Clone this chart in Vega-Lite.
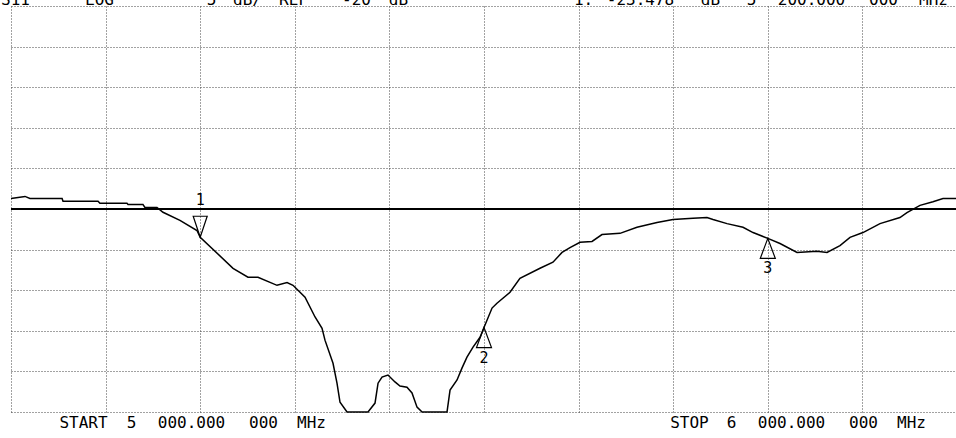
{
  "$schema": "https://vega.github.io/schema/vega-lite/v6.json",
  "width": 946,
  "height": 406,
  "autosize": {"type": "none"},
  "padding": {"left": 11, "top": 6, "right": 0, "bottom": 26},
  "background": "white",
  "config": {"view": {"stroke": null}},
  "datasets": {
    "trace": [
      {"freq": 5000, "db": -18.7}, {"freq": 5014.8, "db": -18.45}, {"freq": 5020, "db": -18.7},
      {"freq": 5054, "db": -18.7}, {"freq": 5055, "db": -19.05}, {"freq": 5092, "db": -19.05},
      {"freq": 5094, "db": -19.3}, {"freq": 5122.6, "db": -19.3}, {"freq": 5123.7, "db": -19.45},
      {"freq": 5139.5, "db": -19.45}, {"freq": 5141.6, "db": -19.8}, {"freq": 5154.3, "db": -19.8},
      {"freq": 5160.7, "db": -20.4}, {"freq": 5178.6, "db": -21.4}, {"freq": 5196.6, "db": -22.65},
      {"freq": 5200, "db": -23.48}, {"freq": 5234.7, "db": -27.3}, {"freq": 5250.5, "db": -28.4},
      {"freq": 5261.1, "db": -28.4}, {"freq": 5281.2, "db": -29.4}, {"freq": 5291.8, "db": -29.05},
      {"freq": 5298.1, "db": -29.4}, {"freq": 5310.8, "db": -30.85}, {"freq": 5321.4, "db": -33.3},
      {"freq": 5328.8, "db": -34.7}, {"freq": 5331.9, "db": -36.15}, {"freq": 5340.4, "db": -39},
      {"freq": 5344.6, "db": -41.45}, {"freq": 5347.8, "db": -43.8}, {"freq": 5355.2, "db": -45},
      {"freq": 5377.4, "db": -45}, {"freq": 5384.8, "db": -43.9}, {"freq": 5388, "db": -41.45},
      {"freq": 5392.2, "db": -40.7}, {"freq": 5398.5, "db": -40.45}, {"freq": 5405.9, "db": -41.3},
      {"freq": 5411.2, "db": -41.8}, {"freq": 5418.6, "db": -41.95}, {"freq": 5423.9, "db": -42.65},
      {"freq": 5429.2, "db": -44.4}, {"freq": 5434.5, "db": -45}, {"freq": 5460.9, "db": -45},
      {"freq": 5464.1, "db": -42.3}, {"freq": 5471.5, "db": -41.05}, {"freq": 5476.7, "db": -39.6},
      {"freq": 5482, "db": -38.25}, {"freq": 5488.4, "db": -37}, {"freq": 5495.8, "db": -35.8},
      {"freq": 5500, "db": -34.6}, {"freq": 5508.5, "db": -32.2}, {"freq": 5513.7, "db": -31.6},
      {"freq": 5527.5, "db": -30.25}, {"freq": 5538, "db": -28.55}, {"freq": 5559.2, "db": -27.3},
      {"freq": 5572.9, "db": -26.55}, {"freq": 5582.5, "db": -25.35}, {"freq": 5590.9, "db": -24.75},
      {"freq": 5601.5, "db": -24.1}, {"freq": 5614.2, "db": -24}, {"freq": 5624.7, "db": -23.15},
      {"freq": 5643.8, "db": -23}, {"freq": 5661.7, "db": -22.25}, {"freq": 5682.9, "db": -21.65},
      {"freq": 5699.8, "db": -21.3}, {"freq": 5720.9, "db": -21.15}, {"freq": 5735.7, "db": -21.05},
      {"freq": 5742.1, "db": -21.3}, {"freq": 5756.9, "db": -21.8}, {"freq": 5773.8, "db": -22.25},
      {"freq": 5784.4, "db": -22.9}, {"freq": 5800, "db": -23.62}, {"freq": 5812.9, "db": -24.25},
      {"freq": 5830.9, "db": -25.35}, {"freq": 5852, "db": -25.2}, {"freq": 5862.6, "db": -25.35},
      {"freq": 5876.3, "db": -24.5}, {"freq": 5886.9, "db": -23.5}, {"freq": 5900.6, "db": -22.9},
      {"freq": 5918.6, "db": -21.8}, {"freq": 5939.7, "db": -21.05}, {"freq": 5947.1, "db": -20.45},
      {"freq": 5960.9, "db": -19.55}, {"freq": 5974.6, "db": -19.1}, {"freq": 5985.2, "db": -18.7},
      {"freq": 6000, "db": -18.7}
    ],
    "reference": [{"db": -20}],
    "markers": [
      {"marker": "1", "freq": 5200, "db": -23.48, "side": "above"},
      {"marker": "2", "freq": 5500, "db": -34.6, "side": "below"},
      {"marker": "3", "freq": 5800, "db": -23.62, "side": "below"}
    ],
    "labels": [
      {"label": "S11", "freq": 5004.8, "db": 5.12},
      {"label": "LOG", "freq": 5093.6, "db": 5.12},
      {"label": "5", "freq": 5211.9, "db": 5.12},
      {"label": "dB/", "freq": 5250.0, "db": 5.12},
      {"label": "REF", "freq": 5298.6, "db": 5.12},
      {"label": "-20", "freq": 5365.2, "db": 5.12},
      {"label": "dB", "freq": 5409.6, "db": 5.12},
      {"label": "1:", "freq": 5605.2, "db": 5.12},
      {"label": "-23.478", "freq": 5665.4, "db": 5.12},
      {"label": "dB", "freq": 5739.4, "db": 5.12},
      {"label": "5", "freq": 5782.8, "db": 5.12},
      {"label": "200.000", "freq": 5846.2, "db": 5.12},
      {"label": "000", "freq": 5922.3, "db": 5.12},
      {"label": "MHz", "freq": 5975.2, "db": 5.12},
      {"label": "START", "freq": 5076.6, "db": -47},
      {"label": "5", "freq": 5127.4, "db": -47},
      {"label": "000.000", "freq": 5190.8, "db": -47},
      {"label": "000", "freq": 5266.9, "db": -47},
      {"label": "MHz", "freq": 5317.7, "db": -47},
      {"label": "STOP", "freq": 5717.2, "db": -47},
      {"label": "6", "freq": 5761.6, "db": -47},
      {"label": "000.000", "freq": 5825.1, "db": -47},
      {"label": "000", "freq": 5901.2, "db": -47},
      {"label": "MHz", "freq": 5951.9, "db": -47}
    ]
  },
  "layer": [
    {
      "data": {"name": "trace"},
      "mark": {"type": "line", "color": "black", "strokeWidth": 1.5, "interpolate": "linear"},
      "encoding": {
        "x": {
          "field": "freq", "type": "quantitative",
          "scale": {"domain": [5000, 6000], "nice": false, "zero": false},
          "axis": {
            "values": [5000, 5100, 5200, 5300, 5400, 5500, 5600, 5700, 5800, 5900, 6000],
            "grid": true, "labels": false, "ticks": false, "domain": false, "title": null,
            "gridDash": [1, 2], "gridColor": "#444", "gridWidth": 1, "gridOpacity": 1
          }
        },
        "y": {
          "field": "db", "type": "quantitative",
          "scale": {"domain": [-45, 5], "nice": false, "zero": false},
          "axis": {
            "values": [-45, -40, -35, -30, -25, -20, -15, -10, -5, 0, 5],
            "grid": true, "labels": false, "ticks": false, "domain": false, "title": null,
            "gridDash": [1, 2], "gridColor": "#444", "gridWidth": 1, "gridOpacity": 1
          }
        }
      }
    },
    {
      "data": {"name": "reference"},
      "mark": {"type": "rule", "color": "black", "strokeWidth": 2},
      "encoding": {"y": {"field": "db", "type": "quantitative"}}
    },
    {
      "data": {"name": "markers"},
      "transform": [{"filter": "datum.side === 'above'"}],
      "mark": {"type": "point", "shape": "M 0 0 L 0.7 -2.1 L -0.7 -2.1 Z", "size": 400, "filled": false, "stroke": "black", "strokeWidth": 1.2, "opacity": 1},
      "encoding": {
        "x": {"field": "freq", "type": "quantitative"},
        "y": {"field": "db", "type": "quantitative"}
      }
    },
    {
      "data": {"name": "markers"},
      "transform": [{"filter": "datum.side === 'below'"}],
      "mark": {"type": "point", "shape": "M 0 0 L 0.75 2.0 L -0.75 2.0 Z", "size": 400, "filled": false, "stroke": "black", "strokeWidth": 1.2, "opacity": 1},
      "encoding": {
        "x": {"field": "freq", "type": "quantitative"},
        "y": {"field": "db", "type": "quantitative"}
      }
    },
    {
      "data": {"name": "markers"},
      "transform": [{"filter": "datum.side === 'above'"}],
      "mark": {"type": "text", "font": "DejaVu Sans Mono", "fontSize": 15, "color": "black", "baseline": "middle", "align": "center", "dy": -37},
      "encoding": {
        "x": {"field": "freq", "type": "quantitative"},
        "y": {"field": "db", "type": "quantitative"},
        "text": {"field": "marker"}
      }
    },
    {
      "data": {"name": "markers"},
      "transform": [{"filter": "datum.side === 'below'"}],
      "mark": {"type": "text", "font": "DejaVu Sans Mono", "fontSize": 15, "color": "black", "baseline": "middle", "align": "center", "dy": 30},
      "encoding": {
        "x": {"field": "freq", "type": "quantitative"},
        "y": {"field": "db", "type": "quantitative"},
        "text": {"field": "marker"}
      }
    },
    {
      "data": {"name": "labels"},
      "mark": {"type": "text", "font": "DejaVu Sans Mono", "fontSize": 16, "color": "black", "baseline": "alphabetic", "align": "center"},
      "encoding": {
        "x": {"field": "freq", "type": "quantitative"},
        "y": {"field": "db", "type": "quantitative"},
        "text": {"field": "label"}
      }
    }
  ]
}
